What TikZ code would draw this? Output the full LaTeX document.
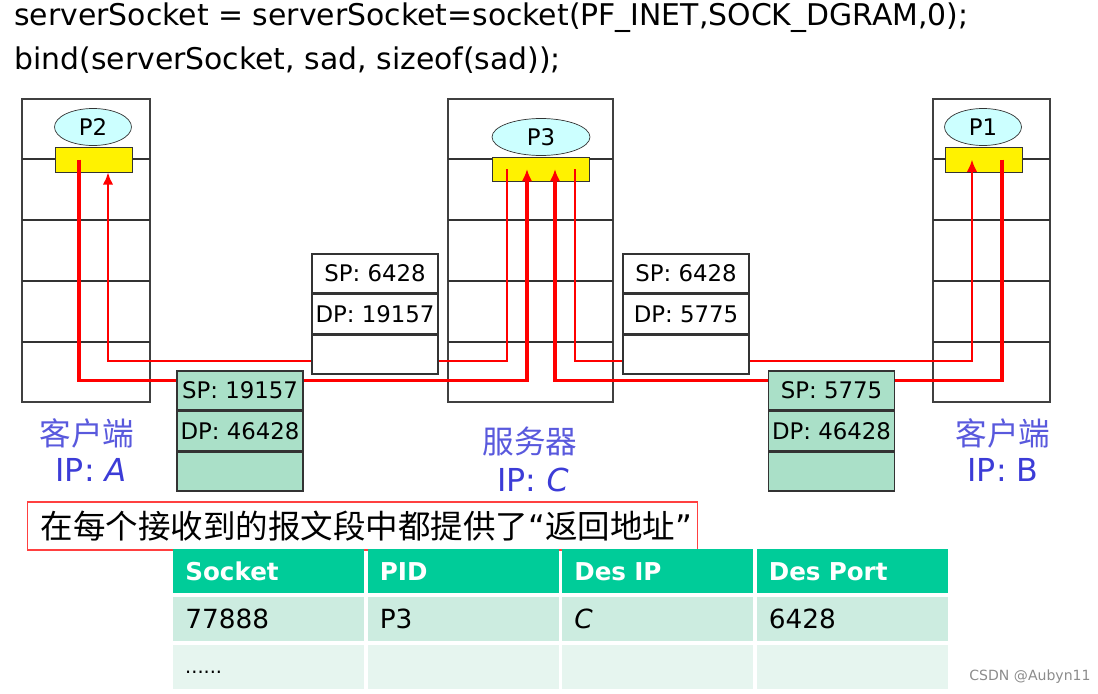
\documentclass[tikz,border=0pt]{standalone}
\usepackage{fontspec}
\setmainfont{DejaVu Sans}[ItalicFont={DejaVu Sans Oblique},BoldFont={DejaVu Sans Bold},BoldItalicFont={DejaVu Sans Bold Oblique}]
\newfontfamily\cjk{Noto Sans CJK SC}
\usepackage{tikz}
\usetikzlibrary{arrows.meta,calc,positioning,shapes.geometric}
\definecolor{procblue}{RGB}{204,255,255}
\definecolor{pktgreen}{RGB}{170,224,200}
\definecolor{lblblue}{RGB}{60,60,215}
\definecolor{hdrgreen}{RGB}{0,204,153}
\definecolor{rowgreen}{RGB}{204,236,224}
\definecolor{rowpale}{RGB}{230,245,239}

\begin{document}
\begin{tikzpicture}[x=0.02cm,y=-0.02cm,
  host/.style={draw=black!75,line width=0.8pt},
  proc/.style={ellipse,draw=black!80,fill=procblue,minimum width=1.54cm,minimum height=0.74cm,inner sep=0pt,font=\fontsize{13}{15}\selectfont},
  sock/.style={rectangle,draw=black!80,fill=yellow,minimum width=1.54cm,minimum height=0.5cm,inner sep=0pt},
  pkt/.style={rectangle,draw=black!80,line width=0.8pt,minimum width=2.52cm,minimum height=0.78cm,inner sep=0pt,font=\fontsize{13}{15}\selectfont},
  req/.style={red,line width=2pt,-{Latex[length=7pt,width=6pt]}},
  rep/.style={red,line width=1.5pt,-{Latex[length=7pt,width=6pt]}},
  hostlbl/.style={text=lblblue!85,font=\cjk\fontsize{18}{20}\selectfont},
  iplbl/.style={text=lblblue,font=\fontsize{18}{20}\selectfont},
  code/.style={anchor=west,inner sep=0pt,font=\fontsize{17}{20}\selectfont},
  hcell/.style={anchor=north west,fill=hdrgreen,text=white,text width=3.34cm,inner xsep=0.24cm,inner ysep=0pt,minimum height=0.88cm,align=left,font=\bfseries\fontsize{14}{16}\selectfont},
  bcell/.style={anchor=north west,text width=3.34cm,inner xsep=0.24cm,inner ysep=0pt,minimum height=0.88cm,align=left,font=\fontsize{15}{17}\selectfont}]
\useasboundingbox (0,0) rectangle (1098,693);

\node[code] (line1) at (14,18) {serverSocket = serverSocket=socket(PF\_INET,SOCK\_DGRAM,0);};
\node[code] (line2) at (14,60) {bind(serverSocket, sad, sizeof(sad));};

% hosts
\foreach \xa/\xb in {22/150,448/613,933/1050}{
  \draw[host] (\xa,99) rectangle (\xb,402);
  \foreach \yy in {159,220,281,342}
    \draw[black!80,line width=0.6pt] (\xa,\yy) -- (\xb,\yy);
}

\node[proc] (p2) at (93,127) {P2};
\node[sock] (sockA) at (93.5,159.5) {};
\node[proc,minimum width=1.96cm] (p3) at (541,137) {P3};
\node[sock,minimum width=1.94cm,minimum height=0.48cm] (sockC) at (540.5,169) {};
\node[proc] (p1) at (983,127) {P1};
\node[sock] (sockB) at (983.5,159.5) {};

% segments
\draw[req] ($(sockA.center)+(-14.5,0)$) -- ++(0,221) -| ($(sockC.center)+(-13.5,0)$);
\draw[rep] ($(sockC.center)+(-33.5,0)$) -- ++(0,192) -| ($(sockA.south)+(14.5,0)$);
\draw[req] ($(sockB.center)+(18.5,0)$) -- ++(0,221) -| ($(sockC.center)+(14.5,0)$);
\draw[rep] ($(sockC.center)+(34.5,0)$) -- ++(0,192) -| ($(sockB.center)+(-11.5,0)$);

\node[pkt,fill=pktgreen] (gA1) at (240,390.5) {SP: 19157};
\node[pkt,fill=pktgreen,below=0pt of gA1] (gA2) {DP: 46428};
\node[pkt,fill=pktgreen,below=0pt of gA2] (gA3) {};
\node[pkt,fill=white] (wA1) at (375,273.5) {SP: 6428};
\node[pkt,fill=white,below=0pt of wA1] (wA2) {DP: 19157};
\node[pkt,fill=white,below=0pt of wA2] (wA3) {};
\node[pkt,fill=white] (wB1) at (686,273.5) {SP: 6428};
\node[pkt,fill=white,below=0pt of wB1] (wB2) {DP: 5775};
\node[pkt,fill=white,below=0pt of wB2] (wB3) {};
\node[pkt,fill=pktgreen] (gB1) at (831.5,390.5) {SP: 5775};
\node[pkt,fill=pktgreen,below=0pt of gB1] (gB2) {DP: 46428};
\node[pkt,fill=pktgreen,below=0pt of gB2] (gB3) {};

\node[hostlbl] (nameA) at (87,433) {客户端};
\node[iplbl] (ipA) at (91,470) {IP: \textit{A}};
\node[hostlbl] (nameC) at (530,441) {服务器};
\node[iplbl] (ipC) at (533,480) {IP: \textit{C}};
\node[hostlbl] (nameB) at (1003,433) {客户端};
\node[iplbl] (ipB) at (1003,470) {IP: B};

\node[draw=red!75,line width=0.7pt,anchor=west,minimum height=0.96cm,text width=12.88cm,inner xsep=0.26cm,align=left,font=\cjk\fontsize{18.5}{20}\selectfont] (note) at (27,526) {在每个接收到的报文段中都提供了{\rmfamily“}返回地址{\rmfamily”}};

% table
\foreach \t [count=\i from 0] in {Socket,PID,Des IP,Des Port}
  \node[hcell] (h\i) at (173+194.5*\i,549) {\t};
\foreach \t [count=\i from 0] in {77888,P3,\textit{C},6428}
  \node[bcell,fill=rowgreen] (r\i) at (173+194.5*\i,597) {\t};
\foreach \i in {0,...,3}
  \node[bcell,fill=rowpale] (e\i) at (173+194.5*\i,645) {};
\node[anchor=west,font=\fontsize{11}{13}\selectfont] (dots) at ($(e0.west)+(6,5)$) {......};

\node[text=black!45,font=\fontsize{8}{10}\selectfont] (mark) at (1030,677) {CSDN @Aubyn11};
\end{tikzpicture}
\end{document}
